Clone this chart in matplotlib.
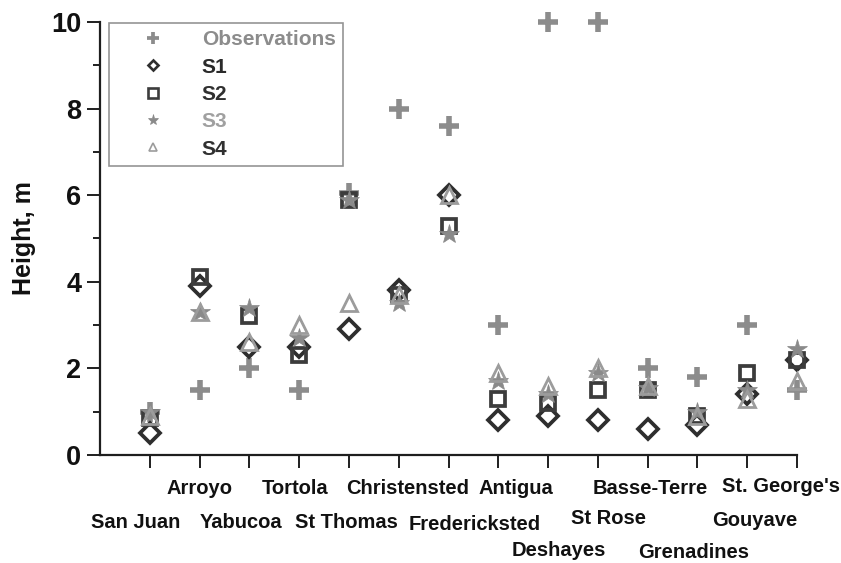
import matplotlib
matplotlib.use("Agg")
import matplotlib.pyplot as plt
from matplotlib.lines import Line2D
from matplotlib.transforms import blended_transform_factory, offset_copy

# ---------------- data ----------------
sites = ["San Juan", "Arroyo", "Yabucoa", "Tortola", "St Thomas", "Christensted",
         "Fredericksted", "Antigua", "Deshayes", "St Rose", "Basse-Terre",
         "Grenadines", "Gouyave", "St. George's"]
observations = [1.0, 1.5, 2.0, 1.5, 6.05, 8.0, 7.6, 3.0, 10.0, 10.0, 2.0, 1.8, 3.0, 1.5]
s1 = [0.5, 3.9, 2.5, 2.5, 2.9, 3.8, 6.0, 0.8, 0.9, 0.8, 0.6, 0.7, 1.4, 2.2]
s2 = [0.85, 4.1, 3.2, 2.3, 5.9, 3.7, 5.3, 1.3, 1.2, 1.5, 1.5, 0.9, 1.9, 2.2]
s3 = [1.0, 3.3, 3.4, 2.7, 5.9, 3.5, 5.1, 1.7, 1.4, 1.9, 1.55, 1.0, 1.5, 2.45]
s4 = [0.9, 3.3, 2.6, 3.0, 3.5, 3.7, 6.0, 1.9, 1.6, 2.0, 1.6, 0.9, 1.3, 1.7]
series_names = ["Observations", "S1", "S2", "S3", "S4"]

# label layout (vertical offset in px below axis, horizontal offset in px)
label_row_y = [-68, -33, -68, -33, -68, -33, -70, -33, -95, -63, -33, -97, -65, -32]
label_dx = [-14, 0, -8, -4, -2, 9, 26, 18, 11, 11, 3, -4, 8, -16]

# ---------------- style ----------------
fam = "Liberation Sans"
plt.rcParams["font.family"] = [fam, "DejaVu Sans"]
plt.rcParams["font.weight"] = "bold"

c_obs = "#8c8c8c"
c_s1 = "#2e2e2e"
c_s2 = "#3c3c3c"
c_s3 = "#8a8a8a"
c_s4 = "#9c9c9c"
c_axis = "#1e1e1e"

fig = plt.figure(figsize=(8.41, 5.63), dpi=100)
ax = fig.add_axes([100 / 841, 1 - 455 / 563, 697 / 841, 433 / 563])

x = list(range(1, len(sites) + 1))

ax.plot(x, observations, linestyle="none", marker="+", ms=14, mew=4, color=c_obs,
        zorder=3, clip_on=False)
ax.plot(x, s1, linestyle="none", marker="D", ms=10.5, mew=2.7, mfc="none", mec=c_s1,
        zorder=4, clip_on=False)
ax.plot(x, s2, linestyle="none", marker="s", ms=10.5, mew=2.7, mfc="none", mec=c_s2,
        zorder=5, clip_on=False)
ax.plot(x, s3, linestyle="none", marker="*", ms=14.5, mew=0.5, mfc=c_s3, mec=c_s3,
        zorder=6, clip_on=False)
ax.plot(x, s4, linestyle="none", marker="^", ms=11.5, mew=2.0, mfc="none", mec=c_s4,
        zorder=7, clip_on=False)

ax.set_xlim(0, 14)
ax.set_ylim(0, 10)
ax.set_yticks([0, 2, 4, 6, 8, 10])
ax.set_yticks([1, 3, 5, 7, 9], minor=True)
ax.set_xticks(x)
ax.set_xticklabels([])

for s in ["top", "right"]:
    ax.spines[s].set_visible(False)
for s in ["left", "bottom"]:
    ax.spines[s].set_linewidth(1.6)
    ax.spines[s].set_color(c_axis)

ax.tick_params(axis="y", which="major", direction="out", length=9.5, width=1.4,
               color=c_axis, labelsize=19.5, pad=4, labelcolor="#111111")
ax.tick_params(axis="y", which="minor", direction="out", length=5, width=1.4, color=c_axis)
ax.tick_params(axis="x", which="major", direction="out", length=9.5, width=1.4,
               color=c_axis)
for t in ax.get_yticklabels():
    t.set_fontweight("bold")

ax.set_ylabel("Height, m", fontsize=18, fontweight="bold", color="#111111", labelpad=11)

trans = blended_transform_factory(ax.transData, ax.transAxes)
for xi, name, dy, dx in zip(x, sites, label_row_y, label_dx):
    tr = offset_copy(trans, fig=fig, x=dx, y=dy, units="dots")
    ax.text(xi, 0, name, transform=tr, ha="center", va="center",
            fontsize=14.5, fontweight="bold", color="#111111")

handles = [
    Line2D([], [], linestyle="none", marker="+", ms=9, mew=2.7, color=c_obs),
    Line2D([], [], linestyle="none", marker="D", ms=5.5, mew=1.9, mfc="none", mec=c_s1),
    Line2D([], [], linestyle="none", marker="s", ms=6.5, mew=1.9, mfc="none", mec=c_s2),
    Line2D([], [], linestyle="none", marker="*", ms=8, mew=0.5, mfc=c_s3, mec=c_s3),
    Line2D([], [], linestyle="none", marker="^", ms=6, mew=1.2, mfc="none", mec=c_s4),
]
leg = ax.legend(handles, series_names, loc="upper left",
                bbox_to_anchor=(9 / 697, 1.0 - 1 / 433), borderaxespad=0,
                fontsize=15, frameon=True, fancybox=False, handlelength=3.5,
                handletextpad=0.6, labelspacing=0.4, borderpad=0.35)
leg.get_frame().set_edgecolor("#7a7a7a")
leg.get_frame().set_linewidth(1.2)
text_colors = [c_obs, "#2a2a2a", "#303030", "#a0a0a0", "#303030"]
for t, c in zip(leg.get_texts(), text_colors):
    t.set_color(c)
    t.set_fontweight("bold")

fig.savefig("out.png", dpi=100)
